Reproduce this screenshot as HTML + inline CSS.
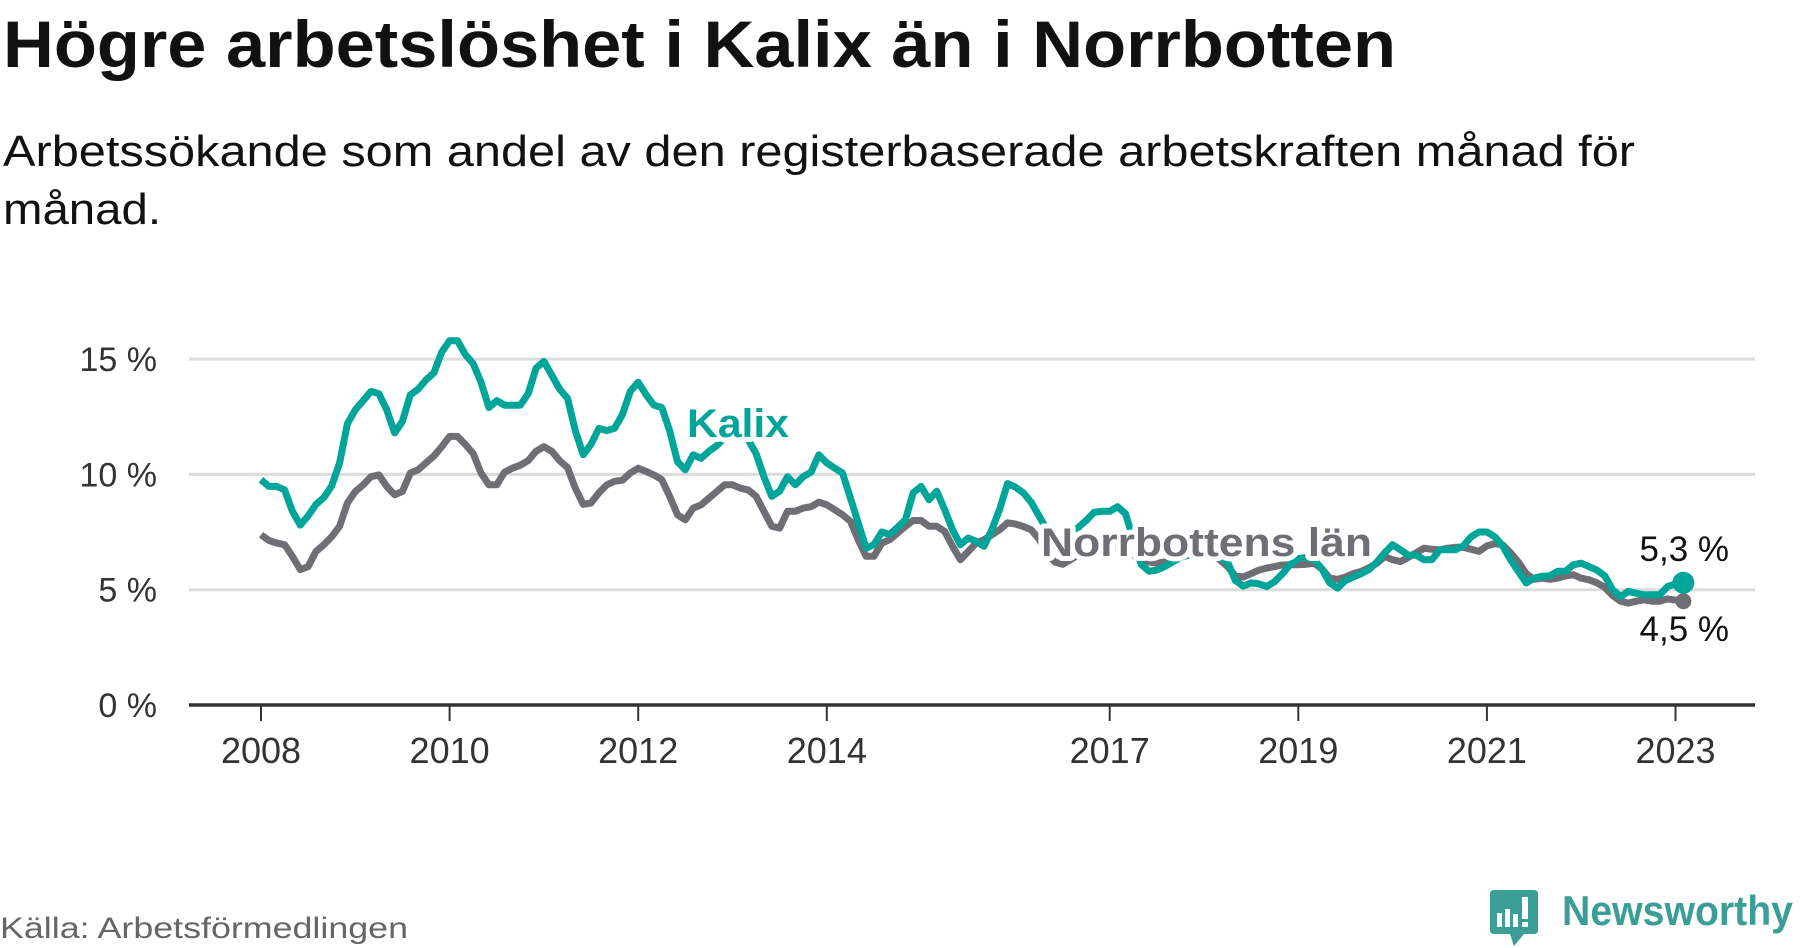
<!DOCTYPE html>
<html><head><meta charset="utf-8">
<style>
html,body{margin:0;padding:0;background:#fff;}
svg{display:block;font-family:"Liberation Sans",sans-serif;}
</style></head>
<body>
<svg id="chart" width="1800" height="948" viewBox="0 0 1800 948" xmlns="http://www.w3.org/2000/svg">
<text x="3" y="67" font-size="66" font-weight="bold" fill="#111" textLength="1393" lengthAdjust="spacingAndGlyphs">Högre arbetslöshet i Kalix än i Norrbotten</text>
<text x="3" y="166" font-size="44" fill="#111" textLength="1632" lengthAdjust="spacingAndGlyphs">Arbetssökande som andel av den registerbaserade arbetskraften månad för</text>
<text x="3" y="224" font-size="44" fill="#111" textLength="158" lengthAdjust="spacingAndGlyphs">månad.</text>
<g id="grid"></g>
<g id="yticks"></g>
<g id="xticks"></g>
<g id="series"></g>
<text x="0" y="938" font-size="30" fill="#666" textLength="408" lengthAdjust="spacingAndGlyphs">Källa: Arbetsförmedlingen</text>
<g>
  <path d="M1494 890 H1534 Q1538 890 1538 894 V930 Q1538 934 1534 934 H1524 L1514 946 L1510 934 H1494 Q1490 934 1490 930 V894 Q1490 890 1494 890 Z" fill="#3a9e96"/>
  <rect x="1497" y="913" width="5" height="14" fill="#fff"/>
  <rect x="1505" y="909" width="5" height="18" fill="#fff"/>
  <rect x="1513" y="914" width="5" height="13" fill="#fff"/>
  <rect x="1522" y="897" width="6" height="22" fill="#fff"/>
  <rect x="1522" y="922" width="6" height="5" fill="#fff"/>
  <text x="1562" y="925" font-size="42" font-weight="bold" fill="#3a9e96" textLength="231" lengthAdjust="spacingAndGlyphs">Newsworthy</text>
</g>
</svg>
<script>
const yTicks = [0, 5, 10, 15];
const yTickLabels = ["0 %", "5 %", "10 %", "15 %"];
const xTickYears = [2008, 2010, 2012, 2014, 2017, 2019, 2021, 2023];
const startYear = 2008;
const kalix = [
9.77,9.48,9.48,9.33,8.4,7.8,8.2,8.7,9.0,9.5,10.5,12.2,
12.8,13.2,13.6,13.5,12.8,11.8,12.3,13.45,13.7,14.1,14.4,15.3,
15.8,15.8,15.2,14.8,14.0,12.9,13.2,13.0,13.0,13.0,13.5,14.6,
14.9,14.3,13.7,13.3,11.9,10.85,11.3,12.0,11.9,12.0,12.6,13.6,
14.0,13.45,13.0,12.9,11.9,10.55,10.2,10.85,10.7,11.0,11.25,11.6,
11.9,12.0,11.5,10.9,9.9,9.05,9.27,9.9,9.55,9.9,10.1,10.85,
10.5,10.27,10.06,8.98,7.9,6.8,6.95,7.5,7.4,7.7,8.03,9.2,
9.48,8.9,9.27,8.47,7.6,6.95,7.24,7.1,6.88,7.6,8.5,9.6,
9.45,9.2,8.8,8.2,7.6,7.1,7.0,7.3,7.7,8.0,8.35,8.4,
8.4,8.6,8.3,7.2,6.1,5.8,5.85,6.0,6.2,6.4,6.5,6.6,
6.6,6.5,6.4,6.2,5.4,5.15,5.3,5.25,5.14,5.35,5.7,6.1,
6.35,6.4,6.3,5.9,5.3,5.07,5.4,5.55,5.7,5.87,6.2,6.6,
6.95,6.73,6.5,6.5,6.3,6.3,6.73,6.73,6.73,6.9,7.3,7.5,
7.5,7.3,6.9,6.3,5.8,5.29,5.5,5.58,5.6,5.8,5.8,6.08,
6.15,6.0,5.85,5.6,5.0,4.7,4.93,4.85,4.78,4.78,4.78,5.14,5.25,5.3];
const norrbotten = [
7.38,7.14,7.02,6.95,6.45,5.87,6.0,6.66,6.95,7.3,7.75,8.76,
9.26,9.55,9.9,9.98,9.48,9.12,9.26,10.06,10.2,10.5,10.8,11.2,
11.65,11.65,11.3,10.9,10.06,9.55,9.55,10.1,10.27,10.4,10.6,11.0,
11.2,11.0,10.6,10.3,9.4,8.7,8.76,9.2,9.55,9.7,9.75,10.06,
10.27,10.13,9.98,9.77,9.05,8.25,8.03,8.54,8.68,8.97,9.26,9.55,
9.55,9.4,9.33,9.05,8.4,7.75,7.67,8.4,8.4,8.54,8.6,8.8,
8.68,8.47,8.25,7.97,7.17,6.45,6.45,7.02,7.17,7.46,7.75,8.0,
8.0,7.75,7.75,7.53,6.88,6.3,6.66,7.02,7.17,7.38,7.6,7.9,
7.85,7.74,7.6,7.2,6.6,6.2,6.1,6.3,6.5,6.7,6.8,6.8,
6.8,6.8,6.7,6.5,6.3,6.2,6.15,6.2,6.3,6.4,6.5,6.55,
6.6,6.5,6.3,6.0,5.6,5.55,5.7,5.85,5.94,6.0,6.08,6.08,
6.08,6.1,6.15,5.9,5.5,5.45,5.55,5.7,5.8,5.95,6.15,6.44,
6.3,6.22,6.4,6.6,6.8,6.75,6.73,6.8,6.84,6.84,6.75,6.66,
6.9,7.0,6.95,6.6,6.2,5.7,5.45,5.5,5.45,5.5,5.6,5.65,
5.5,5.43,5.3,5.1,4.75,4.5,4.42,4.5,4.56,4.5,4.5,4.6,4.55,4.5];
const kalixLabel = "Kalix";
const norrLabel = "Norrbottens län";

const NS = "http://www.w3.org/2000/svg";
const X0 = 261, PX_PER_YEAR = 94.3, Y0 = 705, PX_PER_PCT = 23.06;
function xScale(monthIndex){ return X0 + monthIndex * PX_PER_YEAR / 12; }
function xYear(year){ return X0 + (year - startYear) * PX_PER_YEAR; }
function yScale(v){ return Y0 - v * PX_PER_PCT; }
function mk(tag, attrs, parent){
  const e = document.createElementNS(NS, tag);
  for (const k in attrs) e.setAttribute(k, attrs[k]);
  parent.appendChild(e);
  return e;
}
const grid = document.getElementById('grid');
const yt = document.getElementById('yticks');
const xt = document.getElementById('xticks');
const ser = document.getElementById('series');

yTicks.forEach((v, i) => {
  if (v > 0) {
    const l = mk('line', {x1:189, x2:1755, y1:yScale(v), y2:yScale(v), stroke:'#dcdcdc', 'stroke-width':3}, grid);
    
    
  }
  const t = mk('text', {x:157, y:yScale(v)+12, 'text-anchor':'end', 'font-size':34, fill:'#333'}, yt);
  t.textContent = yTickLabels[i];
  
  
});
const axis = mk('line', {x1:189, x2:1755, y1:Y0, y2:Y0, stroke:'#333', 'stroke-width':3.5}, xt);


xTickYears.forEach(yr => {
  const x = xYear(yr);
  const tk = mk('line', {x1:x, x2:x, y1:Y0, y2:721, stroke:'#333', 'stroke-width':2}, xt);
  
  
  const t = mk('text', {x:x, y:763, 'text-anchor':'middle', 'font-size':36, fill:'#333'}, xt);
  t.textContent = String(yr);
  
  
});
function pathOf(arr){ return arr.map((v,i)=>(i?'L':'M')+xScale(i).toFixed(1)+' '+yScale(v).toFixed(1)).join(' '); }
const pn = mk('path', {d:pathOf(norrbotten), fill:'none', stroke:'#6f6e74', 'stroke-width':7, 'stroke-linejoin':'round'}, ser);


const nl = norrbotten.length - 1;
const dn = mk('circle', {cx:xScale(nl), cy:yScale(norrbotten[nl]), r:8, fill:'#6f6e74'}, ser);


const pk = mk('path', {d:pathOf(kalix), fill:'none', stroke:'#00a599', 'stroke-width':7, 'stroke-linejoin':'round'}, ser);


const kl = kalix.length - 1;
const dk = mk('circle', {cx:xScale(kl), cy:yScale(kalix[kl]), r:11, fill:'#00a599'}, ser);



const lk = mk('text', {x:687, y:437, 'font-size':40, 'font-weight':'bold', fill:'#00a599', stroke:'#fff', 'stroke-width':10, 'paint-order':'stroke', 'stroke-linejoin':'round', textLength:102, lengthAdjust:'spacingAndGlyphs'}, ser);
lk.textContent = kalixLabel;


const ln = mk('text', {x:1041, y:556, 'font-size':40, 'font-weight':'bold', fill:'#6f6e74', stroke:'#fff', 'stroke-width':10, 'paint-order':'stroke', 'stroke-linejoin':'round', textLength:331, lengthAdjust:'spacingAndGlyphs'}, ser);
ln.textContent = norrLabel;



const vk = mk('text', {x:1729, y:561, 'text-anchor':'end', 'font-size':35, fill:'#111'}, ser);
vk.textContent = kalix[kl].toFixed(1).replace('.', ',') + ' %';


const vn = mk('text', {x:1729, y:641, 'text-anchor':'end', 'font-size':35, fill:'#111'}, ser);
vn.textContent = norrbotten[nl].toFixed(1).replace('.', ',') + ' %';


</script>
</body></html>
